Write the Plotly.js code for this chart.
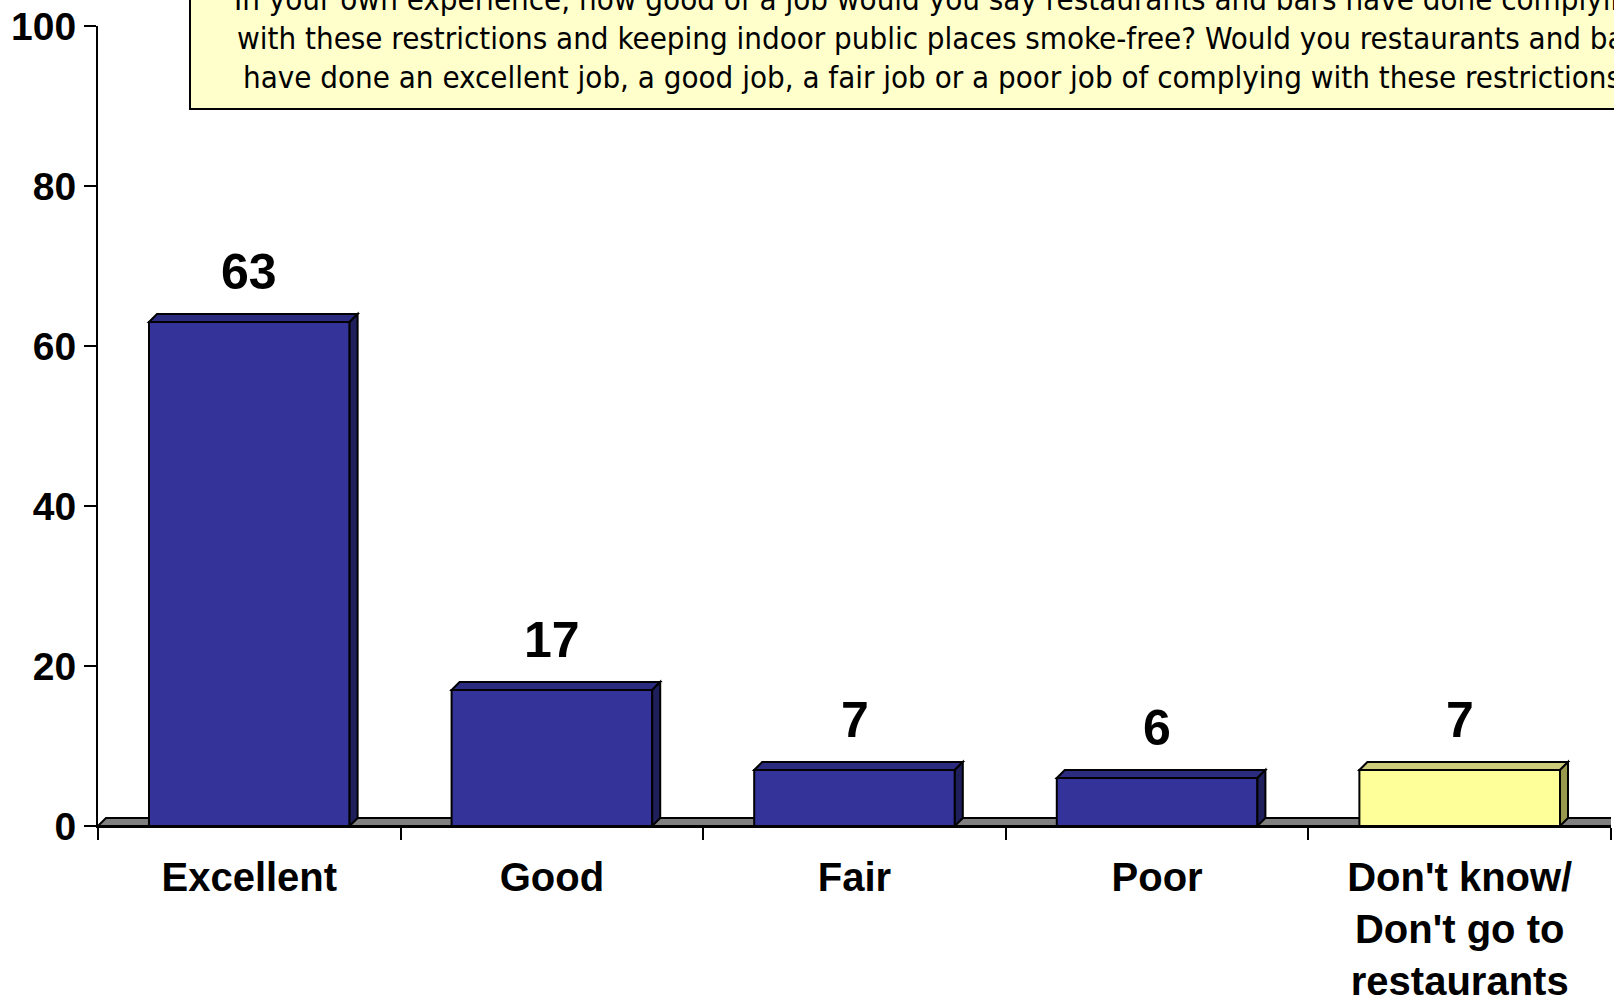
<!DOCTYPE html>
<html>
<head>
<meta charset="utf-8">
<script src="https://cdn.plot.ly/plotly-3.0.1.min.js"></script>
<style>
  html, body { margin: 0; padding: 0; background: #ffffff; }
  #chart { width: 1614px; height: 998px; }
</style>
</head>
<body>
<div id="chart"></div>
<script>
// ---- data ----
const categories = ["Excellent", "Good", "Fair", "Poor", "Don't know/<br>Don't go to<br>restaurants"];
const values = [63, 17, 7, 6, 7];
const barColors = ["#333399", "#333399", "#333399", "#333399", "#FFFF99"];
const topColors = ["#2B2B80", "#2B2B80", "#2B2B80", "#2B2B80", "#CCCC7A"];
const sideColors = ["#1F1F5C", "#1F1F5C", "#1F1F5C", "#1F1F5C", "#99994D"];
const yTicks = [0, 20, 40, 60, 80, 100];
const questionLines = [
  "In your own experience, how good of a job would you say restaurants and bars have done complying",
  "with these restrictions and keeping indoor public places smoke-free? Would you restaurants and bars",
  "have done an excellent job, a good job, a fair job or a poor job of complying with these restrictions?"
];

// ---- layout constants ----
const W = 1614, H = 998;
const M = { l: 98, r: 3, t: 26, b: 172 };
const plotW = W - M.l - M.r, plotH = H - M.t - M.b;
const bargap = 0.337;
const half = (1 - bargap) / 2;
const depthPx = 8;
const dx = depthPx / (plotW / categories.length);
const dy = depthPx / (plotH / 100);
const FONT = "'Liberation Sans', Arial, sans-serif";

const shapes = [];
// floor
shapes.push({
  type: 'path', xref: 'x', yref: 'y', layer: 'below',
  path: `M -0.5,0 L ${-0.5 + dx},${dy} L ${categories.length - 0.5 + dx},${dy} L ${categories.length - 0.5},0 Z`,
  fillcolor: '#808080', line: { color: '#000000', width: 2 }
});
values.forEach((v, i) => {
  const l = i - half, r = i + half;
  // top face
  shapes.push({
    type: 'path', xref: 'x', yref: 'y', layer: 'above',
    path: `M ${l},${v} L ${l + dx},${v + dy} L ${r + dx},${v + dy} L ${r},${v} Z`,
    fillcolor: topColors[i], line: { color: '#000000', width: 2 }
  });
  // side face
  shapes.push({
    type: 'path', xref: 'x', yref: 'y', layer: 'above',
    path: `M ${r},${v} L ${r + dx},${v + dy} L ${r + dx},${dy} L ${r},0 Z`,
    fillcolor: sideColors[i], line: { color: '#000000', width: 2 }
  });
});
// question box
const px2x = p => (p - M.l) / plotW;
const py2y = p => (M.t + plotH - p) / plotH;
shapes.push({
  type: 'rect', xref: 'paper', yref: 'paper', layer: 'above',
  x0: px2x(190), x1: px2x(1700), y0: py2y(109), y1: py2y(-20),
  fillcolor: '#FFFFCC', line: { color: '#000000', width: 2 }
});

const annotations = [];
values.forEach((v, i) => {
  annotations.push({
    x: i, y: v, xref: 'x', yref: 'y', text: String(v), showarrow: false,
    yanchor: 'bottom', yshift: 20,
    font: { family: FONT, size: 50, color: '#000000', weight: 'bold' }
  });
});
const lineStarts = [232, 235, 241];
const lineMids = [-1, 38, 77];
questionLines.forEach((t, k) => {
  annotations.push({
    x: px2x(lineStarts[k]), y: py2y(lineMids[k]), xref: 'paper', yref: 'paper',
    xanchor: 'left', yanchor: 'middle', text: t, showarrow: false,
    font: { family: "'DejaVu Sans Condensed', 'DejaVu Sans', sans-serif", size: 31, color: '#000000' }
  });
});

const trace = {
  type: 'bar', x: categories, y: values,
  marker: { color: barColors, line: { color: '#000000', width: 2 } },
  hoverinfo: 'x+y'
};

const layout = {
  width: W, height: H,
  margin: M,
  paper_bgcolor: '#ffffff', plot_bgcolor: '#ffffff',
  showlegend: false,
  bargap: bargap,
  font: { family: FONT, color: '#000000' },
  xaxis: {
    type: 'category', range: [-0.5, categories.length - 0.5],
    showline: true, linecolor: '#000000', linewidth: 2,
    ticks: 'outside', tickson: 'boundaries', ticklen: 12, tickwidth: 2, tickcolor: '#000000',
    ticklabelstandoff: 15,
    showgrid: false, zeroline: false, fixedrange: true,
    tickfont: { family: FONT, size: 40, color: '#000000', weight: 'bold' }
  },
  yaxis: {
    range: [0, 100], tickvals: yTicks,
    showline: true, linecolor: '#000000', linewidth: 2,
    ticks: 'outside', ticklen: 12, tickwidth: 2, tickcolor: '#000000',
    showgrid: false, zeroline: false, fixedrange: true,
    tickfont: { family: FONT, size: 39, color: '#000000', weight: 'bold' }
  },
  shapes: shapes,
  annotations: annotations
};

Plotly.newPlot('chart', [trace], layout, { displayModeBar: false, staticPlot: true });
</script>
</body>
</html>
